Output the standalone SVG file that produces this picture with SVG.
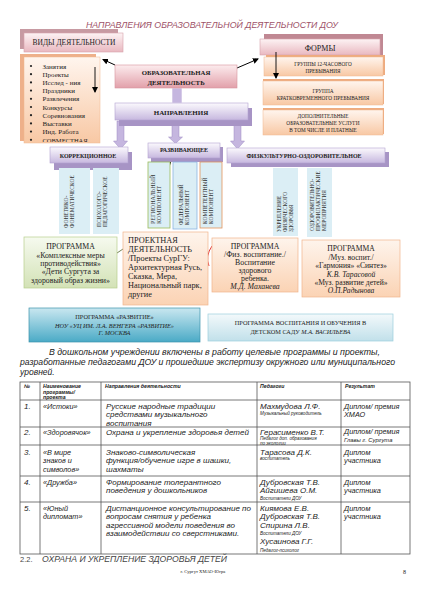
<svg xmlns="http://www.w3.org/2000/svg" width="424" height="600" viewBox="0 0 424 600">
<defs>
<linearGradient id="gPink" x1="0" y1="0" x2="0" y2="1"><stop offset="0" stop-color="#fdf3f4"/><stop offset="1" stop-color="#e9b8c0"/></linearGradient>
<linearGradient id="gPinkC" x1="0" y1="0" x2="0" y2="1"><stop offset="0" stop-color="#fcecee"/><stop offset="1" stop-color="#e2a0aa"/></linearGradient>
<linearGradient id="gLav" x1="0" y1="0" x2="0" y2="1"><stop offset="0" stop-color="#fbf9fd"/><stop offset="1" stop-color="#c7b8df"/></linearGradient>
<linearGradient id="gPeach" x1="0" y1="0" x2="0" y2="1"><stop offset="0" stop-color="#fff5ee"/><stop offset="1" stop-color="#f8c8a4"/></linearGradient>
<linearGradient id="gPeach2" x1="0" y1="0" x2="0" y2="1"><stop offset="0" stop-color="#fef4ec"/><stop offset="1" stop-color="#fbd3b4"/></linearGradient>
<linearGradient id="gGreen" x1="0" y1="0" x2="0" y2="1"><stop offset="0" stop-color="#f6faef"/><stop offset="1" stop-color="#d3e2b6"/></linearGradient>
<linearGradient id="gTeal" x1="0" y1="0" x2="0" y2="1"><stop offset="0" stop-color="#c9e7f0"/><stop offset="1" stop-color="#4aaac6"/></linearGradient>
<linearGradient id="gBlue" x1="0" y1="0" x2="0" y2="1"><stop offset="0" stop-color="#f3f9fb"/><stop offset="1" stop-color="#c1e0ea"/></linearGradient>
<marker id="ah" markerWidth="6" markerHeight="6" refX="5" refY="3" orient="auto" markerUnits="userSpaceOnUse"><path d="M0,0 L6,3 L0,6 z" fill="#000"/></marker>
<clipPath id="listclip"><rect x="24" y="57" width="76" height="85"/></clipPath>
</defs>
<style>
.s{font-family:"Liberation Serif","Times New Roman",serif;fill:#222}
.a{font-family:"Liberation Sans",Arial,sans-serif;fill:#222}
.i{font-style:italic}
.b{font-weight:bold}
.m{text-anchor:middle}
.lav{fill:url(#gLav);stroke:#b3a2d0;stroke-width:0.6}
.lavs{fill:#a794c5}
.pch{fill:url(#gPeach);stroke:#f0b890;stroke-width:0.5}
.pchs{fill:#eeab7f}
.pk{fill:url(#gPink);stroke:#d6a2ab;stroke-width:0.6}
.vb{fill:#dbeef5}
.prg{fill:url(#gPeach2);stroke:#f0b48c;stroke-width:0.7}
.blk{fill:#c5b6df;stroke:#9d8ac3;stroke-width:0.5}
.tl{stroke:#555;stroke-width:0.8;fill:none}
.vt{font-family:"Liberation Serif","Times New Roman",serif;fill:#333;font-size:5.5px}
.t8{font-size:8px}
.sm{font-size:4.6px}
</style>
<rect width="424" height="600" fill="#fff"/>

<text x="212" y="28" class="a i m" font-size="8.5" fill="#9e5268" style="fill:#9e5268" textLength="252" lengthAdjust="spacingAndGlyphs">НАПРАВЛЕНИЯ ОБРАЗОВАТЕЛЬНОЙ ДЕЯТЕЛЬНОСТИ  ДОУ</text>

<g id="connectors">
<line x1="115" y1="65" x2="103" y2="59.5" stroke="#000" stroke-width="1" marker-end="url(#ah)"/>
<line x1="237" y1="68" x2="258" y2="59" stroke="#000" stroke-width="1" marker-end="url(#ah)"/>
<rect x="172" y="88" width="10" height="15" fill="#c5b6df" stroke="#fff" stroke-width="0.6"/>
<polygon class="blk" points="117,121 124,121 124,141 127.5,141 120.5,149 113.5,141 117,141"/>
<polygon class="blk" points="172,121 179,121 179,137 182.5,137 175.5,143.5 168.5,137 172,137"/>
<polygon class="blk" points="234,121 241,121 241,141 244.5,141 237.5,149 230.5,141 234,141"/>
<line x1="117" y1="253" x2="123" y2="249" stroke="#4f6228" stroke-width="0.8"/>
<path d="M212,246 Q205,256 209,266" fill="none" stroke="#e02020" stroke-width="0.9"/>
<line x1="166" y1="167" x2="170.5" y2="162.5" stroke="#000" stroke-width="0.6" marker-end="url(#ah)"/>
</g>

<g id="vidy">
<rect x="20" y="29" width="98" height="20" fill="#c79aa2"/>
<rect x="24" y="33" width="99" height="19" class="pk"/>
<text x="74" y="44.5" class="s m" font-size="7.5">ВИДЫ ДЕЯТЕЛЬНОСТИ</text>
</g>

<g id="spisok">
<rect x="20" y="54" width="76" height="87" fill="#eeb08a"/>
<rect x="24" y="57" width="76" height="86" class="pch"/>
<g clip-path="url(#listclip)" class="s" font-size="7">
<g fill="#222">
<circle cx="31" cy="66" r="1.1"/><circle cx="31" cy="74.2" r="1.1"/><circle cx="31" cy="82.4" r="1.1"/><circle cx="31" cy="90.6" r="1.1"/><circle cx="31" cy="98.8" r="1.1"/><circle cx="31" cy="107" r="1.1"/><circle cx="31" cy="115.2" r="1.1"/><circle cx="31" cy="123.4" r="1.1"/><circle cx="31" cy="131.6" r="1.1"/><circle cx="31" cy="139.8" r="1.1"/>
</g>
<text x="42.5" y="68.5">Занятия</text>
<text x="42.5" y="76.7">Проекты</text>
<text x="42.5" y="84.9">Исслед - ния</text>
<text x="42.5" y="93.1">Праздники</text>
<text x="42.5" y="101.3">Развлечения</text>
<text x="42.5" y="109.5">Конкурсы</text>
<text x="42.5" y="117.7">Соревнования</text>
<text x="42.5" y="125.9">Выставки</text>
<text x="42.5" y="134.1">Инд. Работа</text>
<text x="42.5" y="142.8" font-size="6.5">СОВМЕСТНАЯ</text>
</g>
<line x1="95" y1="67" x2="95" y2="92" stroke="#000" stroke-width="0.9" marker-end="url(#ah)"/>
</g>

<g id="obr">
<rect x="115" y="65" width="122" height="23" fill="url(#gPinkC)" stroke="#d8939d" stroke-width="0.6"/>
<text x="176" y="75" class="s b m" font-size="6.8">ОБРАЗОВАТЕЛЬНАЯ</text>
<text x="176" y="84.5" class="s b m" font-size="6.8">ДЕЯТЕЛЬНОСТЬ</text>
</g>

<g id="formy">
<rect x="264" y="34" width="119" height="21" fill="#c08893"/>
<rect x="260" y="39" width="120" height="16" class="pk"/>
<text x="320" y="50.5" class="s m" font-size="8">ФОРМЫ</text>
</g>

<g id="forma1">
<rect x="266" y="55" width="119" height="20" class="pchs"/>
<rect x="264" y="57" width="119" height="19" class="pch"/>
<text x="323" y="65.5" class="s m" font-size="5.2">ГРУППЫ 12-ЧАСОВОГО</text>
<text x="323" y="72.5" class="s m" font-size="5.2">ПРЕБЫВАНИЯ</text>
<line x1="276" y1="52" x2="276" y2="78" stroke="#000" stroke-width="0.9" marker-end="url(#ah)"/>
</g>
<g id="forma2">
<rect x="263" y="79" width="121" height="25" class="pchs"/>
<rect x="263" y="81" width="120" height="24" class="pch"/>
<text x="323" y="92.5" class="s m" font-size="5.3">ГРУППА</text>
<text x="323" y="100" class="s m" font-size="5.3">КРАТКОВРЕМЕННОГО ПРЕБЫВАНИЯ</text>
</g>
<g id="forma3">
<rect x="263" y="108" width="121" height="26" class="pchs"/>
<rect x="263" y="110" width="120" height="25" class="pch"/>
<text x="323" y="118" class="s m" font-size="5.3">ДОПОЛНИТЕЛЬНЫЕ</text>
<text x="323" y="125" class="s m" font-size="5.3">ОБРАЗОВАТЕЛЬНЫЕ УСЛУГИ</text>
<text x="323" y="132" class="s m" font-size="5.3">В ТОМ ЧИСЛЕ И  ПЛАТНЫЕ</text>
</g>

<g id="napr">
<rect x="119" y="108" width="133" height="18" class="lavs"/>
<rect x="115" y="103" width="133" height="17" class="lav"/>
<text x="181" y="114.5" class="s b m" font-size="7">НАПРАВЛЕНИЯ</text>
</g>

<g id="korr">
<rect x="54" y="152" width="78" height="18" class="lavs"/>
<rect x="50" y="147" width="78" height="16" class="lav"/>
<text x="88" y="157.5" class="s b m" font-size="6">КОРРЕКЦИОННОЕ</text>
</g>
<g id="razv">
<rect x="151" y="147" width="72" height="15" class="lavs"/>
<rect x="148" y="143" width="72" height="15" class="lav"/>
<text x="184" y="152" class="s b m" font-size="6">РАЗВИВАЮЩЕЕ</text>
</g>
<g id="fiz">
<rect x="231" y="152" width="158" height="15" class="lavs"/>
<rect x="227" y="148" width="158" height="15" class="lav"/>
<text x="304" y="157.5" class="s b m" font-size="6">ФИЗКУЛЬТУРНО-ОЗДОРОВИТЕЛЬНОЕ</text>
</g>

<g id="v1">
<rect x="59" y="168" width="31" height="66" class="vb"/>
<text class="vt" transform="translate(68,228) rotate(-90)">ФОНЕТИКО-</text>
<text class="vt" transform="translate(74,228) rotate(-90)">ФОНЕМАТИЧЕСКОЕ</text>
</g>
<g id="v2">
<rect x="93" y="168" width="26" height="66" class="vb"/>
<text class="vt" transform="translate(101,227) rotate(-90)">ПСИХОЛОГО-</text>
<text class="vt" transform="translate(107,227) rotate(-90)">ПЕДАГОГИЧЕСКОЕ</text>
</g>
<g id="v3">
<rect x="148" y="162" width="22" height="66" class="vb" stroke="#9bbb59" stroke-width="0.8"/>
<text class="vt" font-size="6" style="font-size:6px" transform="translate(155,224) rotate(-90)">РЕГИОНАЛЬНЫЙ</text>
<text class="vt" font-size="6" style="font-size:6px" transform="translate(161,224) rotate(-90)">КОМПОНЕНТ</text>
</g>
<g id="v4">
<rect x="173" y="162" width="24" height="67" class="vb" stroke="#8db3e2" stroke-width="0.8"/>
<text class="vt" transform="translate(183,225) rotate(-90)">ФЕДЕРАЛЬНЫЙ</text>
<text class="vt" transform="translate(189,225) rotate(-90)">КОМПОНЕНТ</text>
</g>
<g id="v5">
<rect x="200" y="162" width="22" height="66" class="vb" stroke="#e3935a" stroke-width="0.8"/>
<text class="vt" transform="translate(207,224) rotate(-90)">КОМПЕТЕНТНЫЙ</text>
<text class="vt" transform="translate(213,224) rotate(-90)">КОМПОНЕНТ</text>
</g>
<g id="v6">
<rect x="273" y="168" width="25" height="68" class="vb"/>
<text class="vt" transform="translate(281,232) rotate(-90)">УКРЕПЛЕНИЕ</text>
<text class="vt" transform="translate(287,232) rotate(-90)">ФИЗИЧЕСКОГО</text>
<text class="vt" transform="translate(293,232) rotate(-90)">ЗДОРОВЬЯ</text>
</g>
<g id="v7">
<rect x="307" y="168" width="25" height="69" class="vb"/>
<text class="vt" transform="translate(314,231) rotate(-90)">ОЗДОРОВИТЕЛЬНО-</text>
<text class="vt" transform="translate(320,231) rotate(-90)">ПРОФИЛАКТИЧЕСКИЕ</text>
<text class="vt" transform="translate(326,231) rotate(-90)">МЕРОПРИЯТИЯ</text>
</g>

<g id="progA">
<rect x="24" y="237" width="93" height="51" fill="url(#gGreen)" stroke="#b7ce8e" stroke-width="0.7"/>
<g class="s m" font-size="7.8">
<text x="70.5" y="249">ПРОГРАММА</text>
<text x="70.5" y="257.5">«Комплексные меры</text>
<text x="70.5" y="265.5">противодействия»</text>
<text x="70.5" y="274">«Дети Сургута за</text>
<text x="70.5" y="282.5">здоровый образ жизни»</text>
</g>
</g>

<g id="progB">
<rect x="123" y="232" width="85" height="73" class="prg"/>
<g class="s" font-size="8.3">
<text x="128" y="243">ПРОЕКТНАЯ</text>
<text x="128" y="252">ДЕЯТЕЛЬНОСТЬ</text>
<text x="128" y="261">/Проекты СурГУ:</text>
<text x="128" y="270">Архитектурная Русь,</text>
<text x="128" y="279">Сказка, Мера,</text>
<text x="128" y="288">Национальный парк,</text>
<text x="128" y="297">другие</text>
</g>
</g>

<g id="progC">
<rect x="212" y="238" width="86" height="54" class="prg"/>
<g class="s m" font-size="7.8">
<text x="255" y="249">ПРОГРАММА</text>
<text x="255" y="257">/Физ. воспитание./</text>
<text x="255" y="265">Воспитание</text>
<text x="255" y="273">здорового</text>
<text x="255" y="281">ребенка.</text>
<text x="255" y="288.5" class="i">М.Д. Маханева</text>
</g>
</g>

<g id="progD">
<rect x="302" y="240" width="98" height="57" class="prg"/>
<g class="s m" font-size="7.6">
<text x="351" y="251">ПРОГРАММА</text>
<text x="351" y="259.5">/Муз. воспит./</text>
<text x="351" y="268">«Гармония»  «Синтез»</text>
<text x="351" y="276.5" class="i">К.В. Тарасовой</text>
<text x="351" y="285">«Муз. развитие детей»</text>
<text x="351" y="293" class="i">О.П.Радынова</text>
</g>
</g>

<g id="progE">
<rect x="29" y="308" width="171" height="34" fill="url(#gTeal)" stroke="#3d93ab" stroke-width="0.7"/>
<g class="s m" font-size="6.3">
<text x="114.5" y="318.5">ПРОГРАММА «РАЗВИТИЕ»</text>
<text x="114.5" y="327.5" class="i">НОУ «УЦ ИМ.  Л.А. ВЕНГЕРА «РАЗВИТИЕ»</text>
<text x="114.5" y="335" class="i">Г. МОСКВА</text>
</g>
</g>

<g id="progF">
<rect x="208" y="314" width="185" height="27" fill="url(#gBlue)" stroke="#9ccfdd" stroke-width="0.7"/>
<g class="s m" font-size="6.3">
<text x="300.5" y="325">ПРОГРАММА ВОСПИТАНИЯ И ОБУЧЕНИЯ В</text>
<text x="300.5" y="333.5">ДЕТСКОМ САДУ <tspan class="i">М.А. ВАСИЛЬЕВА</tspan></text>
</g>
</g>

<g id="paragraph" class="a i" font-size="8.5">
<text x="49" y="355" textLength="331" lengthAdjust="spacingAndGlyphs">В дошкольном учреждении включены  в работу целевые программы и проекты,</text>
<text x="20" y="365" textLength="375" lengthAdjust="spacingAndGlyphs">разработанные педагогами ДОУ  и  прошедшие экспертизу окружного или муниципального</text>
<text x="20" y="375">уровней.</text>
</g>

<g id="table">
<rect x="20" y="382" width="390" height="172" class="tl"/>
<line x1="40" y1="382" x2="40" y2="554" class="tl"/>
<line x1="101" y1="382" x2="101" y2="554" class="tl"/>
<line x1="257" y1="382" x2="257" y2="554" class="tl"/>
<line x1="341" y1="382" x2="341" y2="554" class="tl"/>
<line x1="20" y1="400" x2="410" y2="400" class="tl"/>
<line x1="20" y1="427" x2="410" y2="427" class="tl"/>
<line x1="20" y1="445" x2="410" y2="445" class="tl"/>
<line x1="20" y1="476" x2="410" y2="476" class="tl"/>
<line x1="20" y1="502" x2="410" y2="502" class="tl"/>

<g class="a i b" font-size="5.2">
<text x="24" y="388">№</text>
<text x="43" y="388">Наименование</text>
<text x="43" y="393.5">программы/</text>
<text x="43" y="399">проекта</text>
<text x="105" y="388">Направления деятельности</text>
<text x="260" y="388">Педагоги</text>
<text x="345" y="388">Результат</text>
</g>

<g class="a i" font-size="8">
<text x="24" y="408.5">1.</text>
<text x="43" y="408.5" font-size="7.3">«Истоки»</text>
<text x="106" y="408.5">Русские народные традиции</text>
<text x="106" y="417">средствами музыкального</text>
<text x="106" y="425.5">воспитания</text>
<text x="260" y="408.5">Махмудова Л.Ф.</text>
<text x="260" y="415" class="sm">Музыкальный руководитель</text>
<text x="344" y="408.5" font-size="7.3">Диплом/ премия</text>
<text x="344" y="417" font-size="7.3">ХМАО</text>

<text x="24" y="434.5">2.</text>
<text x="43" y="434.5" font-size="7.3">«Здоровячок»</text>
<text x="106" y="434.5">Охрана и укрепление здоровья детей</text>
<text x="260" y="434.5">Герасименко В.Т.</text>
<text x="260" y="440" class="sm">Педагог доп. образования</text>
<text x="260" y="445" class="sm">по экологии</text>
<text x="344" y="434" font-size="7.3">Диплом/ премия</text>
<text x="344" y="441.5" font-size="5.8">Главы г. Сургута</text>

<text x="24" y="454.5">3.</text>
<text x="43" y="454.5" font-size="7.3">«В мире</text>
<text x="43" y="463" font-size="7.3">знаков и</text>
<text x="43" y="471.5" font-size="7.3">символов»</text>
<text x="106" y="454.5">Знаково-символическая</text>
<text x="106" y="463">функция/обучение игре в шашки,</text>
<text x="106" y="471.5">шахматы</text>
<text x="260" y="454.5">Тарасова Д.К.</text>
<text x="260" y="460" class="sm">воспитатель</text>
<text x="344" y="454.5" font-size="7.3">Диплом</text>
<text x="344" y="463" font-size="7.3">участника</text>

<text x="24" y="484.5">4.</text>
<text x="43" y="484.5" font-size="7.3">«Дружба»</text>
<text x="106" y="484.5">Формирование толерантного</text>
<text x="106" y="493">поведения у дошкольников</text>
<text x="260" y="484.5">Дубровская Т.В.</text>
<text x="260" y="493">Айгишева О.М.</text>
<text x="260" y="499.5" class="sm">Воспитатели ДОУ</text>
<text x="344" y="484.5" font-size="7.3">Диплом</text>
<text x="344" y="493" font-size="7.3">участника</text>

<text x="24" y="510.5">5.</text>
<text x="43" y="510.5" font-size="7.3">«Юный</text>
<text x="43" y="519" font-size="7.3">дипломат»</text>
<text x="106" y="510.5">Дистанционное консультирование по</text>
<text x="106" y="519">вопросам снятия у ребенка</text>
<text x="106" y="527.5">агрессивной модели  поведения во</text>
<text x="106" y="536">взаимодействии со сверстниками.</text>
<text x="260" y="510.5">Киямова Е.В.</text>
<text x="260" y="519">Дубровская Т.В.</text>
<text x="260" y="527.5">Спирина Л.В.</text>
<text x="260" y="534.5" class="sm">Воспитатели ДОУ</text>
<text x="260" y="544">Хусаинова Г.Г.</text>
<text x="260" y="551.5" class="sm">Педагог-психолог</text>
<text x="344" y="510.5" font-size="7.3">Диплом</text>
<text x="344" y="519" font-size="7.3">участника</text>
</g>
</g>

<g id="footer">
<text x="20" y="562" class="a" font-size="7.5" style="fill:#444">2.2.</text>
<text x="42" y="562" class="a i" font-size="8.5" style="fill:#444" textLength="185" lengthAdjust="spacingAndGlyphs">ОХРАНА И УКРЕПЛЕНИЕ ЗДОРОВЬЯ ДЕТЕЙ</text>
<text x="203" y="573" class="s m" font-size="4.6">г. Сургут    ХМАО-Югра</text>
<text x="403" y="574" class="s" font-size="6">8</text>
</g>
</svg>
